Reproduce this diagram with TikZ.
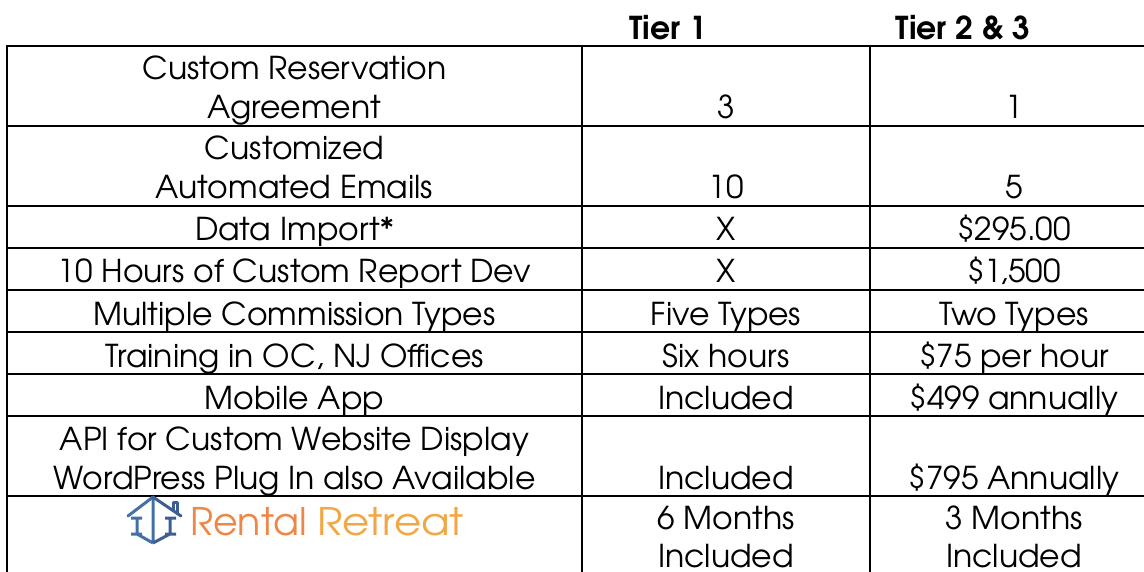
\documentclass[tikz,border=0pt]{standalone}
\usepackage{fontspec}
\setmainfont{TeX Gyre Adventor}
\definecolor{rrblue}{HTML}{3C5E92}
\definecolor{rrblueL}{HTML}{4470AA}
\definecolor{rrorange}{HTML}{EE8746}
\definecolor{rryellow}{HTML}{F3A744}
\tikzset{
  cell/.style={anchor=base,inner sep=0pt,font=\fontsize{31.5}{36}\selectfont},
  head/.style={cell,font=\fontsize{31.5}{36}\selectfont\bfseries},
  rule/.style={line width=2pt},
  logo/.style={anchor=base west,inner sep=0pt,font=\fontsize{38}{40}\selectfont},
  house/.style={line width=3pt,line join=round},
}
\def\colA{294.5}
\def\colB{726}
\def\colC{1014}

\begin{document}
\begin{tikzpicture}[x=1pt,y=-1pt]
  \useasboundingbox (0,0) rectangle (1144,572);
  % table rules
  \foreach \y in {46,126,206,248,290,332,374,416,496}
    \draw[rule] (7,\y) -- (1144,\y);
  \foreach \x in {7,582,870}
    \draw[rule] (\x,45) -- (\x,572);
  % header
  \node[head] (tier1) at (668,40) {Tier 1};
  \node[head] (tier23) at (963,40) {Tier 2 \& 3};
  % two line rows
  \node[cell] (res1) at (\colA,80) {Custom Reservation};
  \node[cell] (res2) at (\colA,119) {Agreement};
  \node[cell] (resa) at (\colB,119) {3};
  \node[cell] (resb) at (\colC,119) {1};
  \node[cell] (mail1) at (\colA,160) {Customized};
  \node[cell] (mail2) at (\colA,199) {Automated Emails};
  \node[cell] (maila) at (\colB,199) {10};
  \node[cell] (mailb) at (\colC,199) {5};
  % one line rows
  \foreach \y/\feat/\ta/\tb [count=\i] in {
      241/{Data Import*}/X/{\$295.00},
      283/{10 Hours of Custom Report Dev}/X/{\$1,500},
      325/{Multiple Commission Types}/{Five Types}/{Two Types},
      367/{Training in OC, NJ Offices}/{Six hours}/{\$75 per hour},
      409/{Mobile App}/{Included}/{\$499 annually}} {
    \node[cell] (f\i) at (\colA,\y) {\feat};
    \node[cell] (a\i) at (\colB,\y) {\ta};
    \node[cell] (b\i) at (\colC,\y) {\tb};
  }
  \node[cell] (api1) at (\colA,450) {API for Custom Website Display};
  \node[cell] (api2) at (\colA,489) {WordPress Plug In also Available};
  \node[cell] (apia) at (\colB,489) {Included};
  \node[cell] (apib) at (\colC,489) {\$795 Annually};
  \node[cell] (sup1a) at (\colB,529) {6 Months};
  \node[cell] (sup2a) at (\colB,567) {Included};
  \node[cell] (sup1b) at (\colC,529) {3 Months};
  \node[cell] (sup2b) at (\colC,567) {Included};
  % logo
  \draw[house,rrblueL,line cap=round] (128,516) -- (153,497);
  \draw[house,rrblue,line cap=round] (153,497) -- (181,516);
  \draw[house,rrblue] (173,510) -- (173,502) -- (177,502) -- (177,513);
  \draw[house,rrblueL] (153,499) -- (153,543)
    (137,517) -- (137,534) -- (153,543)
    (131,518) -- (142,518) (131,534) -- (142,534);
  \draw[house,rrblue] (153,543) -- (170,534) -- (170,517)
    (165,518) -- (176,518) (165,534) -- (176,534);
  \node[logo,text=rrorange] (rental) at (190,535) {Rental};
  \node[logo,text=rryellow,xscale=1.1] (retreat) at (317,535) {Retreat};
\end{tikzpicture}
\end{document}
